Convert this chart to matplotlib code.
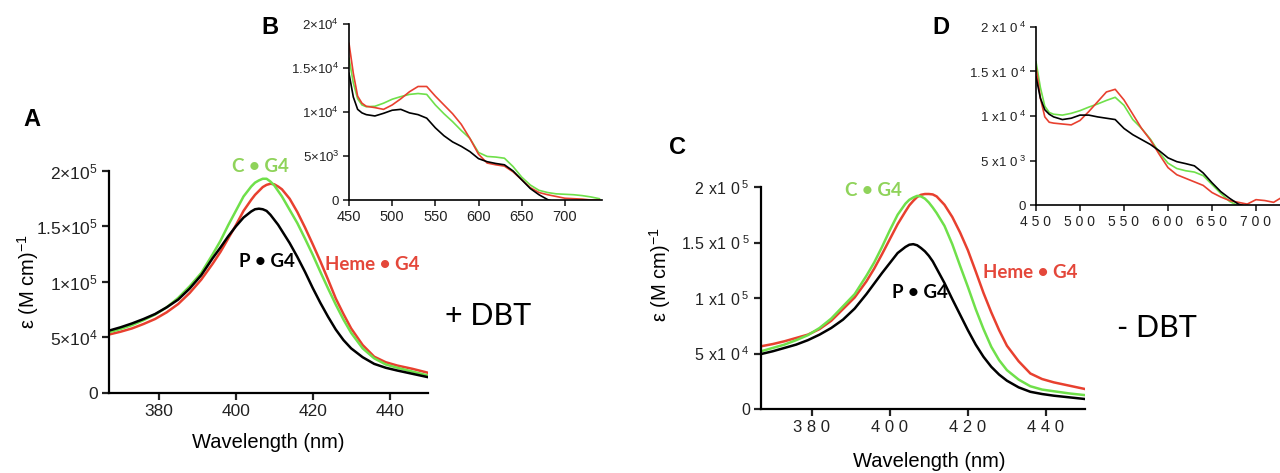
import matplotlib
matplotlib.use("Agg")
import matplotlib.pyplot as plt

plt.rcParams['font.family'] = ['Liberation Sans', 'DejaVu Sans']
plt.rcParams['mathtext.default'] = 'regular'

# ---------------- data ----------------
# Soret band (panels A and C), values in 1e3 M^-1 cm^-1
wl_soret = [367, 370, 373, 376, 379, 382, 385, 388, 391, 394, 396, 398, 400, 402, 404,
            405, 406, 407, 408, 409, 410, 411, 412, 414, 416, 418, 420, 422, 424, 426,
            428, 430, 433, 436, 439, 442, 446, 450]

# +DBT (panel A)
A_P = [56, 59, 62.5, 66.5, 71, 77, 84, 94, 106, 121.5, 131, 141, 150, 158, 163.5,
       165.5, 166, 165.5, 164, 160.5, 156, 151.5, 146, 135, 122.5, 109, 94.5, 81, 68.5, 57,
       47.5, 40, 32, 26, 22.5, 20, 17, 14]
A_C = [54.5, 57.5, 61, 65.5, 70.5, 77, 85.5, 96, 108, 125, 137, 151, 164, 177, 186,
       189.5, 191.5, 193, 193, 190.5, 187, 182, 177, 165, 153, 139, 124.5, 109, 94, 79.5,
       66, 54, 40, 31, 25.5, 22.5, 19, 15.5]
A_H = [52.5, 55, 58, 62, 66.5, 72.5, 80, 90, 102, 116.5, 127, 139, 151, 164, 174,
       178.5, 182, 185.5, 187.5, 188.5, 188, 186, 183.5, 175, 163, 149, 134, 118.5, 102, 85,
       71, 58, 43, 32.5, 27.5, 24.5, 21.5, 18]

# -DBT (panel C)
C_P = [49.5, 52, 55, 58, 62, 67, 73, 80.5, 90.5, 103.5, 113, 122.5, 131.5, 140.5, 146,
       148, 148.5, 147.5, 145, 142, 138, 133, 126.5, 113.5, 99, 85, 71, 58, 47, 38,
       31, 25.5, 19.5, 15.5, 13.5, 12, 10.5, 9]
C_C = [52, 55, 58, 62, 66.5, 73, 81.5, 92.5, 103.5, 120, 132, 146, 161, 175, 185,
       188.5, 190.5, 192, 191.5, 189.5, 186, 181.5, 176.5, 165, 148.5, 129, 110, 90, 72, 56,
       44, 35, 26.5, 20.5, 17.5, 16, 14, 12.5]
C_H = [56.5, 58.5, 61, 64, 67, 72, 79.5, 90, 100.5, 115, 126.5, 139.5, 153, 166.5, 178,
       183.5, 187.5, 191, 193, 193.7, 193.7, 193.3, 191.5, 184, 173, 159, 143, 124, 104.5, 87,
       71, 57, 43, 32, 27, 24, 21, 18]

# Q-band region (insets B and D), values in 1e3
wl_q = [450, 455, 460, 465, 470, 480, 490, 500, 510, 520, 530, 540, 550, 560,
        570, 580, 590, 600, 610, 620, 630, 640, 650, 660, 670, 680, 690]
wl_q_long = wl_q + [700, 710, 720, 730, 740]
B_P = [14.4, 11.7, 10.3, 9.9, 9.7, 9.55, 9.85, 10.2, 10.3, 9.9, 9.7, 9.3, 8.2, 7.3,
       6.6, 6.1, 5.5, 4.7, 4.35, 4.15, 4.0, 3.3, 2.3, 1.3, 0.6, 0.05, -0.3]
B_C = [16.1, 13.3, 11.5, 10.8, 10.6, 10.65, 11.0, 11.45, 11.75, 12.0, 12.1, 12.0, 10.8, 9.8,
       8.9, 7.9, 7.0, 5.4, 4.95, 4.88, 4.75, 3.8, 2.6, 1.7, 1.1, 0.85, 0.7,
       0.65, 0.6, 0.5, 0.35, 0.15]
B_H = [17.8, 14.4, 11.8, 11.0, 10.65, 10.5, 10.3, 10.8, 11.5, 12.3, 12.9, 12.9, 11.8, 10.8,
       9.8, 8.6, 7.0, 5.2, 4.2, 4.0, 3.85, 3.2, 2.3, 1.4, 0.85, 0.6, 0.4,
       0.2, 0.15, 0.1, 0.0, 0.0]

wl_q_dh = wl_q + [700, 710, 720, 730, 740, 750]
D_P = [14.4, 12.0, 10.7, 10.2, 9.9, 9.6, 9.75, 10.1, 10.1, 9.9, 9.75, 9.6, 8.6, 7.9,
       7.35, 6.8, 6.1, 5.3, 4.87, 4.65, 4.4, 3.6, 2.5, 1.5, 0.75, 0.1, -0.2]
D_C = [16.1, 13.2, 11.1, 10.4, 10.2, 10.1, 10.3, 10.6, 11.0, 11.35, 11.75, 12.1, 11.2, 9.6,
       8.6, 7.4, 5.9, 4.7, 4.1, 3.85, 3.7, 3.3, 2.3, 1.3, 0.4, -0.1, -0.3]
D_H = [15.5, 12.0, 9.9, 9.3, 9.2, 9.1, 9.0, 9.5, 10.5, 11.6, 12.7, 13.0, 11.8, 10.2,
       8.6, 7.3, 5.7, 4.2, 3.4, 3.0, 2.6, 2.2, 1.4, 0.9, 0.5, 0.3, 0.1,
       0.6, 0.5, 0.3, 0.9, 0.6, 0.7]

series_labels = ['P • G4', 'C • G4', 'Heme • G4']

# tick labels
A_yticklabels = ['0', r'$5{\times}10^{4}$', r'$1{\times}10^{5}$', r'$1.5{\times}10^{5}$', r'$2{\times}10^{5}$']
B_yticklabels = ['0', r'$5{\times}10^{3}$', r'$1{\times}10^{4}$', r'$1.5{\times}10^{4}$', r'$2{\times}10^{4}$']
C_yticklabels = ['0', r'$5\ x1\ 0\,{}^{4}$', r'$1\ x1\ 0\,{}^{5}$', r'$1.5\ x1\ 0\,{}^{5}$', r'$2\ x1\ 0\,{}^{5}$']
D_yticklabels = ['0', r'$5\ x1\ 0\,{}^{3}$', r'$1\ x1\ 0\,{}^{4}$', r'$1.5\ x1\ 0\,{}^{4}$', r'$2\ x1\ 0\,{}^{4}$']
main_xticks = [380, 400, 420, 440]
inset_xticks = [450, 500, 550, 600, 650, 700]

# ---------------- style ----------------
BLACK = '#000000'
GREEN = '#6fe04a'
RED = '#e8402f'
GREEN_TXT = '#8fd35a'
RED_TXT = '#e4473a'

W, H = 1280, 473
fig = plt.figure(figsize=(W / 100, H / 100), dpi=100)


def px_axes(left, top, right, bottom):
    return fig.add_axes([left / W, 1 - bottom / H, (right - left) / W, (bottom - top) / H])


def ftext(x, y, s, **kw):
    fig.text(x / W, 1 - y / H, s, ha='center', va='center', **kw)


def style(ax, lw, tick_fs, ticklen):
    for s in ['top', 'right']:
        ax.spines[s].set_visible(False)
    for s in ['left', 'bottom']:
        ax.spines[s].set_linewidth(lw)
    ax.tick_params(direction='out', width=lw, length=ticklen, labelsize=tick_fs,
                   colors='#222222', pad=3)
    ax.set_facecolor('none')


def main_panel(ax, p, c, h, ylabels, xlabels, tick_fs):
    ax.plot(wl_soret, [v * 1e3 for v in p], color=BLACK, lw=1.8, zorder=3)
    ax.plot(wl_soret, [v * 1e3 for v in h], color=RED, lw=1.8, zorder=2)
    ax.plot(wl_soret, [v * 1e3 for v in c], color=GREEN, lw=1.8, zorder=2.5)
    ax.set_xlim(367, 450)
    ax.set_ylim(0, 2e5)
    ax.set_yticks([0, 5e4, 1e5, 1.5e5, 2e5])
    ax.set_yticklabels(ylabels)
    ax.set_xticks(main_xticks)
    ax.set_xticklabels(xlabels)
    style(ax, 1.6, tick_fs, 5)


def inset_panel(ax, xs_p, p, xs_c, c, xs_h, h, ylabels, xlabels, xmax, tick_fs):
    ax.plot(xs_p, [v * 1e3 for v in p], color=BLACK, lw=1.2, zorder=3)
    ax.plot(xs_c, [v * 1e3 for v in c], color=GREEN, lw=1.2, zorder=2)
    ax.plot(xs_h, [v * 1e3 for v in h], color=RED, lw=1.2, zorder=2.5)
    ax.set_xlim(450, xmax)
    ax.set_ylim(0, 2e4)
    ax.set_yticks([0, 5e3, 1e4, 1.5e4, 2e4])
    ax.set_yticklabels(ylabels)
    ax.set_xticks(inset_xticks)
    ax.set_xticklabels(xlabels)
    style(ax, 1.2, tick_fs, 4)


# Panel A
axA = px_axes(109, 171, 428, 392.7)
main_panel(axA, A_P, A_C, A_H, A_yticklabels, [str(t) for t in main_xticks], 12.5)
# Panel B
axB = px_axes(349, 24, 602, 200)
inset_panel(axB, wl_q, B_P, wl_q_long, B_C, wl_q_long, B_H, B_yticklabels,
            [str(t) for t in inset_xticks], 743, 10.5)
axB.tick_params(axis='y', labelsize=9.5)
# Panel C
axC = px_axes(761, 187, 1085, 409)
main_panel(axC, C_P, C_C, C_H, C_yticklabels,
           [' '.join(str(t)) for t in main_xticks], 12)
axC.tick_params(axis='y', labelsize=11.5)
# Panel D
axD = px_axes(1036, 27, 1300, 205)
inset_panel(axD, wl_q, D_P, wl_q, D_C, wl_q_dh, D_H, D_yticklabels,
            [' '.join(str(t)) for t in inset_xticks], 750, 10)
axD.tick_params(axis='y', labelsize=9.5)

# axis labels
ylab = r'ε (M cm)$^{-1}$'
ftext(28, 282, ylab, rotation=90, fontsize=14.5)
ftext(268, 442, 'Wavelength (nm)', fontsize=14.5)
ftext(660, 275, ylab, rotation=90, fontsize=14.5)
ftext(929, 461, 'Wavelength (nm)', fontsize=14.5)

# panel letters
for x, y, s in [(32, 120, 'A'), (270, 28, 'B'), (678, 148, 'C'), (941, 27, 'D')]:
    ftext(x, y, s, fontsize=17, fontweight='bold')

# curve labels
lab_font = ['Lato', 'DejaVu Sans']
ftext(260, 166, series_labels[1], color=GREEN_TXT, fontsize=13.5, fontweight='bold', family=lab_font)
ftext(267, 261, series_labels[0], color=BLACK, fontsize=13.5, fontweight='bold', family=lab_font)
ftext(372, 265, series_labels[2], color=RED_TXT, fontsize=13.5, fontweight='bold', family=lab_font)
ftext(873, 190, series_labels[1], color=GREEN_TXT, fontsize=13.5, fontweight='bold', family=lab_font)
ftext(920, 292, series_labels[0], color=BLACK, fontsize=13.5, fontweight='bold', family=lab_font)
ftext(1030, 272, series_labels[2], color=RED_TXT, fontsize=13.5, fontweight='bold', family=lab_font)

ftext(488, 316, '+ DBT', fontsize=22, family=lab_font)
ftext(1157, 328, '- DBT', fontsize=22, family=lab_font)

fig.savefig('out.png', dpi=100, facecolor='white')
